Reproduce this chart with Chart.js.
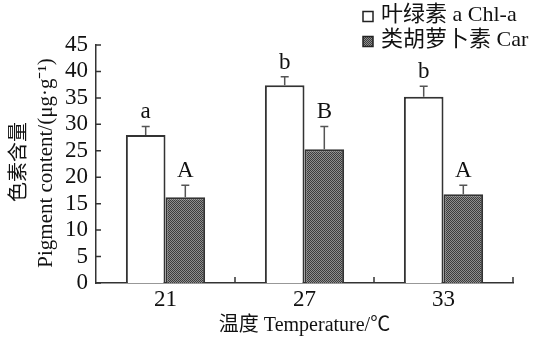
<!DOCTYPE html>
<html><head><meta charset="utf-8">
<script src="https://cdn.jsdelivr.net/npm/chart.js@4"></script>
<style>html,body{margin:0;padding:0;background:#fff}#wrap{width:542px;height:342px}</style>
</head><body><div id="wrap"><canvas id="c" width="542" height="342"></canvas></div>
<script>
const categories = ['21', '27', '33'];
const chlValues = [28, 37.4, 35.2];
const chlErrors = [1.6, 1.6, 2.0];
const chlLetters = ['a', 'b', 'b'];
const carValues = [16.2, 25.3, 16.8];
const carErrors = [2.3, 4.3, 1.7];
const carLetters = ['A', 'B', 'A'];
const seriesNames = ['叶绿素 a Chl-a', '类胡萝卜素 Car'];
const yTicks = [0, 5, 10, 15, 20, 25, 30, 35, 40, 45];
const yTitle = ['色素含量', 'Pigment content/(μg·g⁻¹)'];
const xTitle = '温度 Temperature/℃';

const FONT = '"Liberation Serif", "Noto Sans CJK SC", serif';
const ctx = document.getElementById('c').getContext('2d');

function makePattern() {
  const p = document.createElement('canvas');
  p.width = 2; p.height = 2;
  const g = p.getContext('2d');
  g.fillStyle = '#8e8e8e'; g.fillRect(0, 0, 2, 2);
  g.fillStyle = '#3c3c3c'; g.fillRect(0, 0, 1, 1); g.fillRect(1, 1, 1, 1);
  return ctx.createPattern(p, 'repeat');
}
const pattern = makePattern();

const overlay = {
  id: 'overlay',
  afterDatasetsDraw(chart) {
    const c = chart.ctx, y = chart.scales.y, x = chart.scales.x;
    const errs = [chlErrors, carErrors], lets = [chlLetters, carLetters];
    c.save();
    chart.data.datasets.forEach((ds, di) => {
      const meta = chart.getDatasetMeta(di);
      meta.data.forEach((bar, i) => {
        const top = y.getPixelForValue(ds.data[i]);
        const et = y.getPixelForValue(ds.data[i] + errs[di][i]);
        c.strokeStyle = '#555'; c.lineWidth = 1.5;
        c.beginPath();
        c.moveTo(bar.x, top); c.lineTo(bar.x, et);
        c.moveTo(bar.x - 4, et); c.lineTo(bar.x + 4, et);
        c.stroke();
        c.fillStyle = '#111'; c.font = '23px ' + FONT;
        c.textAlign = 'center'; c.textBaseline = 'alphabetic';
        c.fillText(lets[di][i], bar.x, et - 8);
      });
    });
    // inward ticks
    c.strokeStyle = '#333'; c.lineWidth = 1.5;
    c.beginPath();
    yTicks.forEach(v => {
      const py = y.getPixelForValue(v);
      c.moveTo(x.left, py); c.lineTo(x.left + 5, py);
    });
    const n = categories.length;
    for (let i = 0; i < n; i++) {
      const px = (x.getPixelForValue(i) + (i < n - 1 ? x.getPixelForValue(i + 1) : 2 * x.getPixelForValue(i) - x.getPixelForValue(i - 1))) / 2;
      c.moveTo(px, y.bottom); c.lineTo(px, y.bottom - 6);
    }
    c.stroke();
    // titles
    c.fillStyle = '#111';
    c.font = '20px ' + FONT;
    c.textAlign = 'center'; c.textBaseline = 'middle';
    c.fillText(xTitle, (x.left + x.right) / 2, 326);
    c.save();
    c.translate(20, 162); c.rotate(-Math.PI / 2);
    c.font = '20px ' + FONT;
    c.fillText(yTitle[0], 0, 0);
    c.restore();
    c.save();
    c.translate(46, 163); c.rotate(-Math.PI / 2);
    c.font = '21px ' + FONT;
    c.fillText(yTitle[1], 0, 0);
    c.restore();
    // legend
    const markerY = [16.5, 41.5], textY = [15.5, 40];
    chart.data.datasets.forEach((ds, di) => {
      c.fillStyle = ds.backgroundColor;
      c.fillRect(363, markerY[di] - 5, 10, 10);
      c.strokeStyle = '#222'; c.lineWidth = 1.5;
      c.strokeRect(363, markerY[di] - 5, 10, 10);
      c.fillStyle = '#111'; c.textAlign = 'left'; c.textBaseline = 'middle';
      c.font = '22px ' + FONT;
      c.fillText(ds.label, 381, textY[di]);
    });
    c.restore();
  }
};

new Chart(ctx, {
  type: 'bar',
  data: {
    labels: categories,
    datasets: [
      { label: seriesNames[0], data: chlValues, backgroundColor: '#ffffff', borderColor: '#333', borderWidth: 2 },
      { label: seriesNames[1], data: carValues, backgroundColor: pattern, borderColor: '#333', borderWidth: 2 }
    ]
  },
  options: {
    responsive: false, animation: false,
    devicePixelRatio: 1,
    layout: { padding: { top: 45, right: 29, bottom: 0, left: 0 } },
    datasets: { bar: { categoryPercentage: 0.57, barPercentage: 1.0, borderSkipped: 'bottom' } },
    plugins: { legend: { display: false }, tooltip: { enabled: false } },
    scales: {
      x: {
        grid: { display: false, drawTicks: false },
        border: { display: true, color: '#333', width: 1.5 },
        ticks: { color: '#111', font: { family: FONT, size: 23 }, padding: 3 },
        afterFit(s) { s.height = 59; }
      },
      y: {
        min: 0, max: 45,
        afterBuildTicks(s) { s.ticks = yTicks.map(v => ({ value: v })); },
        grid: { display: false, drawTicks: false },
        border: { display: true, color: '#333', width: 1.5 },
        ticks: { color: '#111', font: { family: FONT, size: 23 }, padding: 8, autoSkip: false },
        afterFit(s) { s.width = 96; }
      }
    }
  },
  plugins: [overlay]
});
</script></body></html>
